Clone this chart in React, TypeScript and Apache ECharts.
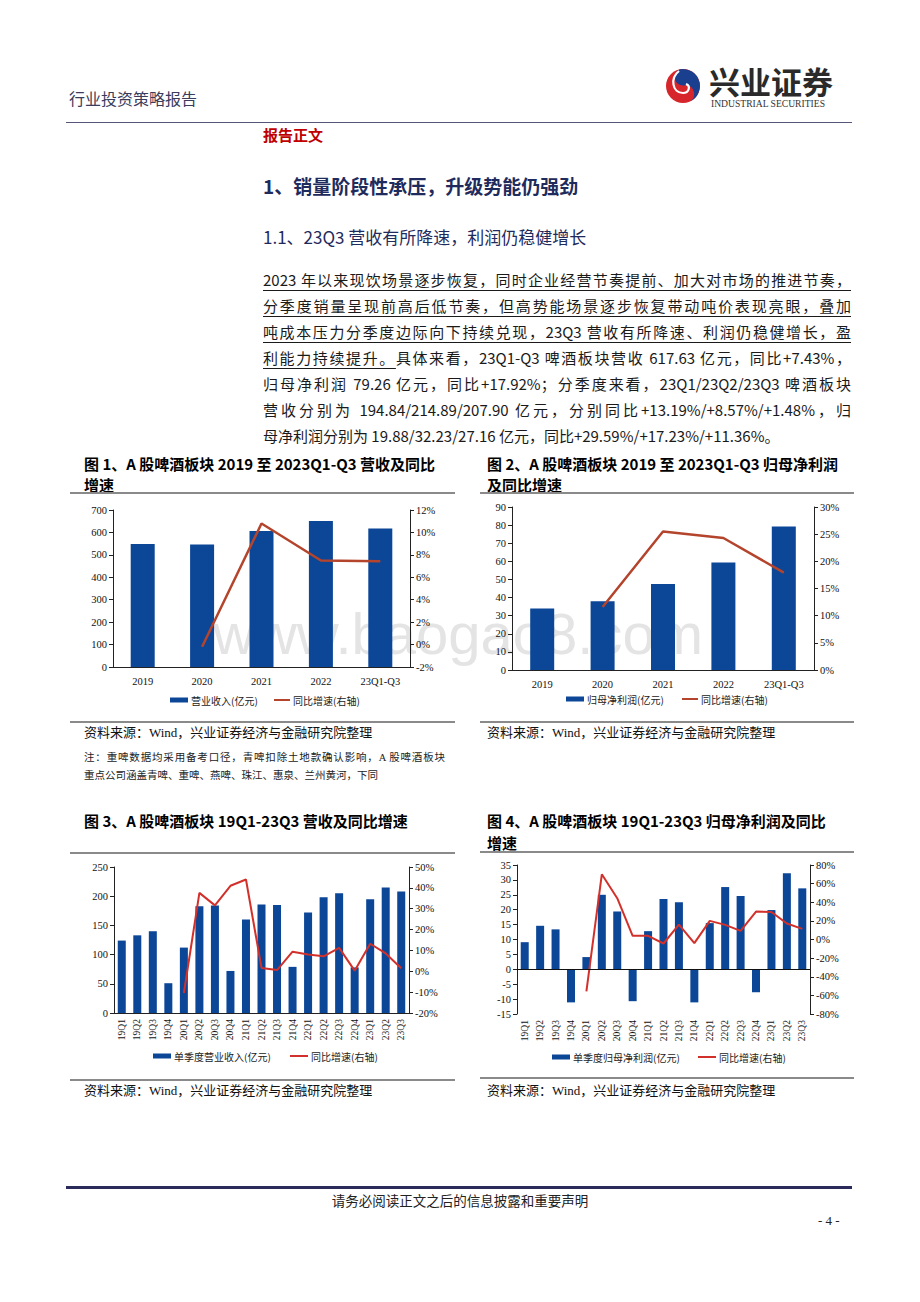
import React, { useEffect, useRef } from "react";
import * as echarts from "echarts";

// ---------- data ----------
const years = ["2019", "2020", "2021", "2022", "23Q1-Q3"];
const annualRevenue = [548, 546, 606, 651, 617.63];
const annualRevenueYoY = [null, -0.2, 10.8, 7.5, 7.43];
const annualProfit = [34, 38, 47.5, 59.3, 79.26];
const annualProfitYoY = [null, 11.6, 25.5, 24.3, 17.92];

const quarters = [
  "19Q1", "19Q2", "19Q3", "19Q4", "20Q1", "20Q2", "20Q3", "20Q4", "21Q1", "21Q2",
  "21Q3", "21Q4", "22Q1", "22Q2", "22Q3", "22Q4", "23Q1", "23Q2", "23Q3",
];
const quarterRevenue = [124, 133, 140, 51, 112, 183, 184, 72, 160, 186, 185, 79, 172, 198, 205, 78, 194.84, 214.89, 207.9];
const quarterRevenueYoY = [null, null, null, null, -10.4, 37.6, 31.6, 41, 44, 1.6, 0.6, 9.4, 8, 7.2, 11.2, 0.3, 13.19, 8.57, 1.48];
const quarterProfit = [9.1, 14.6, 13.4, -11.1, 4.1, 25, 19.4, -10.7, 12.8, 23.6, 22.5, -11.1, 15.5, 27.6, 24.6, -7.7, 19.88, 32.23, 27.16];
const quarterProfitYoY = [null, null, null, null, -55.7, 70, 44.3, 3.9, 3.9, -4.3, 16, -3.9, 20, 15.7, 9.3, 30, 29.59, 17.23, 11.36];

const paragraphLines = [
  "2023 年以来现饮场景逐步恢复，同时企业经营节奏提前、加大对市场的推进节奏，",
  "分季度销量呈现前高后低节奏，但高势能场景逐步恢复带动吨价表现亮眼，叠加",
  "吨成本压力分季度边际向下持续兑现，23Q3 营收有所降速、利润仍稳健增长，盈",
  "具体来看，23Q1-Q3 啤酒板块营收 617.63 亿元，同比+7.43%，",
  "归母净利润 79.26 亿元，同比+17.92%；分季度来看，23Q1/23Q2/23Q3 啤酒板块",
  "营收分别为 194.84/214.89/207.90 亿元，分别同比+13.19%/+8.57%/+1.48%，归",
  "母净利润分别为 19.88/32.23/27.16 亿元，同比+29.59%/+17.23%/+11.36%。",
];
const line4Underlined = "利能力持续提升。";

const BLUE = "#0B4697";
const BROWN = "#B4452C";
const RED = "#D2312B";
const CJK = '"Noto Sans CJK SC", sans-serif';
const SERIF_CJK = '"Liberation Serif", "Noto Sans CJK SC", serif';

const axisFont = { fontFamily: "Liberation Serif", fontSize: 10.5, color: "#111" };

function valAxis(grid: number, pos: string, min: number, max: number, interval: number, pct: boolean) {
  return {
    type: "value",
    gridIndex: grid,
    position: pos,
    min,
    max,
    interval,
    alignTicks: false,
    axisLine: { show: true, lineStyle: { color: "#222", width: 1 } },
    axisTick: { show: true, length: 4, lineStyle: { color: "#222" } },
    splitLine: { show: false },
    axisLabel: { ...axisFont, margin: 6, formatter: pct ? "{value}%" : "{value}" },
  };
}

function catAxis(grid: number, data: string[], rotate: number, showLine: boolean, margin: number) {
  return {
    type: "category",
    gridIndex: grid,
    data,
    boundaryGap: true,
    axisLine: { show: showLine, lineStyle: { color: "#222", width: 1 } },
    axisTick: { show: false },
    axisLabel: { ...axisFont, fontSize: rotate ? 9.5 : 10.5, interval: 0, rotate, margin },
  };
}

function legend(left: number, top: number, name: string, color: string, w: number, h: number) {
  return {
    left,
    top,
    padding: 0,
    selectedMode: false,
    itemWidth: w,
    itemHeight: h,
    itemGap: 4,
    textStyle: { fontFamily: CJK, fontSize: 10, color: "#222", padding: [0, 0, 0, -2] },
    data: [{ name, icon: "rect", itemStyle: { color } }],
  };
}

function buildOption() {
  return {
    animation: false,
    backgroundColor: "transparent",
    graphic: [
      {
        type: "text",
        x: 213,
        y: 633,
        z: -1,
        silent: true,
        style: {
          text: "www.baogao8.com",
          fontSize: 58,
          fontFamily: "Liberation Sans",
          fill: "#e4e4e4",
          verticalAlign: "middle",
        },
      },
    ],
    grid: [
      { left: 113, top: 510, width: 297, height: 157 },
      { left: 512, top: 507, width: 302, height: 163 },
      { left: 114, top: 867, width: 295, height: 146 },
      { left: 517, top: 865, width: 293, height: 149 },
    ],
    xAxis: [
      catAxis(0, years, 0, true, 9),
      catAxis(1, years, 0, true, 9),
      catAxis(2, quarters, 90, true, 6),
      catAxis(3, quarters, 90, false, 6),
    ],
    yAxis: [
      valAxis(0, "left", 0, 700, 100, false),
      valAxis(0, "right", -2, 12, 2, true),
      valAxis(1, "left", 0, 90, 10, false),
      valAxis(1, "right", 0, 30, 5, true),
      valAxis(2, "left", 0, 250, 50, false),
      valAxis(2, "right", -20, 50, 10, true),
      valAxis(3, "left", -15, 35, 5, false),
      valAxis(3, "right", -80, 80, 20, true),
    ],
    legend: [
      legend(170, 695, "营业收入(亿元)", BLUE, 18, 5),
      legend(274, 695, "同比增速(右轴)", BROWN, 16, 2),
      legend(566, 694, "归母净利润(亿元)", BLUE, 18, 5),
      legend(682, 694, "同比增速(右轴)", BROWN, 16, 2),
      legend(153, 1051, "单季度营业收入(亿元)", BLUE, 18, 5),
      legend(290, 1051, "同比增速(右轴)", RED, 18, 2),
      legend(552, 1052, "单季度归母净利润(亿元)", BLUE, 18, 5),
      legend(698, 1052, "同比增速(右轴)", RED, 18, 2),
    ],
    series: [
      { type: "bar", name: "营业收入(亿元)", xAxisIndex: 0, yAxisIndex: 0, barWidth: 24, data: annualRevenue, itemStyle: { color: BLUE } },
      { type: "line", name: "同比增速(右轴)", xAxisIndex: 0, yAxisIndex: 1, data: annualRevenueYoY, symbol: "none", lineStyle: { color: BROWN, width: 2.5 }, itemStyle: { color: BROWN } },
      { type: "bar", name: "归母净利润(亿元)", xAxisIndex: 1, yAxisIndex: 2, barWidth: 24, data: annualProfit, itemStyle: { color: BLUE } },
      { type: "line", name: "同比增速(右轴)", xAxisIndex: 1, yAxisIndex: 3, data: annualProfitYoY, symbol: "none", lineStyle: { color: BROWN, width: 2.5 }, itemStyle: { color: BROWN } },
      { type: "bar", name: "单季度营业收入(亿元)", xAxisIndex: 2, yAxisIndex: 4, barWidth: 8, data: quarterRevenue, itemStyle: { color: BLUE } },
      { type: "line", name: "同比增速(右轴)", xAxisIndex: 2, yAxisIndex: 5, data: quarterRevenueYoY, symbol: "none", lineStyle: { color: RED, width: 2 }, itemStyle: { color: RED } },
      {
        type: "bar", name: "单季度归母净利润(亿元)", xAxisIndex: 3, yAxisIndex: 6, barWidth: 8, data: quarterProfit, itemStyle: { color: BLUE },
        markLine: { silent: true, symbol: ["none", "none"], label: { show: false }, lineStyle: { color: "#111", width: 1, type: "solid" }, data: [{ yAxis: 0 }] },
      },
      { type: "line", name: "同比增速(右轴)", xAxisIndex: 3, yAxisIndex: 7, data: quarterProfitYoY, symbol: "none", lineStyle: { color: RED, width: 2 }, itemStyle: { color: RED } },
    ],
  };
}

type TP = {
  x: number; y: number; size: number; text?: React.ReactNode; color?: string; weight?: number | string;
  family?: string; width?: number; justify?: boolean; lh?: number; center?: boolean;
};
function T(p: TP) {
  const lh = p.lh || Math.round(p.size * 1.4);
  const style: React.CSSProperties = {
    position: "absolute",
    left: p.x,
    top: p.y - lh / 2,
    height: lh,
    lineHeight: lh + "px",
    fontSize: p.size,
    color: p.color || "#1a1a1a",
    fontWeight: p.weight as any,
    fontFamily: p.family || CJK,
    whiteSpace: p.justify ? "normal" : "nowrap",
    pointerEvents: "none",
  };
  if (p.width) style.width = p.width;
  if (p.justify) {
    style.textAlign = "justify";
    (style as any).textAlignLast = "justify";
  }
  if (p.center) style.textAlign = "center";
  return <div style={style}>{p.text}</div>;
}

function HLine({ x, y, w, h, color }: { x: number; y: number; w: number; h: number; color: string }) {
  return <div style={{ position: "absolute", left: x, top: y - h / 2, width: w, height: h, background: color }} />;
}

export default function App() {
  const ref = useRef<HTMLDivElement>(null);
  useEffect(() => {
    if (!ref.current) return;
    const chart = echarts.init(ref.current, null, { renderer: "svg" });
    chart.setOption(buildOption() as any);
    return () => chart.dispose();
  }, []);

  const paraY = [280, 306, 332, 358, 384, 410, 436];
  const underline: React.CSSProperties = { textDecoration: "underline", textUnderlineOffset: "4px", textDecorationThickness: "1px" };

  return (
    <div style={{ position: "absolute", left: 0, top: 0, width: 920, height: 1302, background: "#fff", overflow: "hidden" }}>
      <div ref={ref} style={{ position: "absolute", left: 0, top: 0, width: 920, height: 1302 }} />

      {/* header */}
      <T x={69} y={98} size={16} color="#3b3b5b" text="行业投资策略报告" />
      <svg style={{ position: "absolute", left: 664, top: 67 }} width={38} height={38} viewBox="-19 -19 38 38">
        <circle r={17} fill="#D7262B" />
        <path d="M-3,-16.7 A17,17 0 0 1 7,15.5 A9,9 0 0 0 3,-1 A7,7 0 0 1 -3,-16.7 Z" fill="#1B3F8F" />
        <path d="M-4,-15 C-13,-8 -11,7 0,7 C6,7 8,0 3,-2" stroke="#fff" strokeWidth={2.2} fill="none" />
      </svg>
      <T x={709} y={80} size={31} weight="bold" color="#2a2a2a" family={'"Noto Sans CJK SC", serif'} text="兴业证券" />
      <T x={711} y={103} size={9.6} color="#333" family="Liberation Serif" text="INDUSTRIAL SECURITIES" />
      <HLine x={66} y={122.5} w={786} h={1.6} color="#56567a" />
      <T x={263} y={134} size={15} weight="bold" color="#C00000" text="报告正文" />

      {/* headings */}
      <T x={263} y={185} size={19} weight="bold" color="#1e2b5c" text="1、销量阶段性承压，升级势能仍强劲" />
      <T x={263} y={237} size={17} color="#1e2b5c" text="1.1、23Q3 营收有所降速，利润仍稳健增长" />

      {/* paragraph */}
      {paragraphLines.map((s, i) => {
        const isLast = i === paragraphLines.length - 1;
        let content: React.ReactNode = s;
        if (i < 3) content = <span style={underline}>{s}</span>;
        if (i === 3) content = (<><span style={underline}>{line4Underlined}</span>{s}</>);
        return (
          <T key={i} x={263} y={paraY[i]} size={15} lh={24} width={588} justify={!isLast} color="#1a1a1a" text={content} />
        );
      })}

      {/* chart titles */}
      <T x={84} y={463} size={15} weight="bold" color="#000" text="图 1、A 股啤酒板块 2019 至 2023Q1-Q3 营收及同比" />
      <T x={84} y={484} size={15} weight="bold" color="#000" text="增速" />
      <HLine x={70} y={493} w={385} h={1.6} color="#8a8a8a" />
      <T x={487} y={463} size={15} weight="bold" color="#000" text="图 2、A 股啤酒板块 2019 至 2023Q1-Q3 归母净利润" />
      <T x={487} y={484} size={15} weight="bold" color="#000" text="及同比增速" />
      <HLine x={480} y={493} w={374} h={1.6} color="#8a8a8a" />

      <HLine x={70} y={722} w={385} h={1.6} color="#8a8a8a" />
      <HLine x={480} y={722} w={374} h={1.6} color="#8a8a8a" />
      <T x={84} y={733} size={13} family={SERIF_CJK} color="#111" text="资料来源：Wind，兴业证券经济与金融研究院整理" />
      <T x={487} y={733} size={13} family={SERIF_CJK} color="#111" text="资料来源：Wind，兴业证券经济与金融研究院整理" />
      <T x={84} y={757} size={10.5} width={361} justify color="#222" family={SERIF_CJK} text="注：重啤数据均采用备考口径，青啤扣除土地款确认影响，A 股啤酒板块" />
      <T x={84} y={775} size={10.5} color="#222" family={SERIF_CJK} text="重点公司涵盖青啤、重啤、燕啤、珠江、惠泉、兰州黄河，下同" />

      <T x={84} y={820} size={15} weight="bold" color="#000" text="图 3、A 股啤酒板块 19Q1-23Q3 营收及同比增速" />
      <HLine x={70} y={853} w={385} h={1.6} color="#8a8a8a" />
      <T x={487} y={820} size={15} weight="bold" color="#000" text="图 4、A 股啤酒板块 19Q1-23Q3 归母净利润及同比" />
      <T x={487} y={842} size={15} weight="bold" color="#000" text="增速" />
      <HLine x={480} y={852} w={374} h={1.6} color="#8a8a8a" />

      <HLine x={70} y={1080} w={385} h={1.6} color="#8a8a8a" />
      <HLine x={480} y={1078} w={374} h={1.6} color="#8a8a8a" />
      <T x={84} y={1091} size={13} family={SERIF_CJK} color="#111" text="资料来源：Wind，兴业证券经济与金融研究院整理" />
      <T x={487} y={1091} size={13} family={SERIF_CJK} color="#111" text="资料来源：Wind，兴业证券经济与金融研究院整理" />

      {/* footer */}
      <HLine x={66} y={1187} w={786} h={3} color="#2b2b5b" />
      <T x={0} y={1200} size={13.5} width={920} center color="#222" text="请务必阅读正文之后的信息披露和重要声明" />
      <T x={818} y={1221} size={13} family="Liberation Serif" color="#222" text="- 4 -" />
    </div>
  );
}
